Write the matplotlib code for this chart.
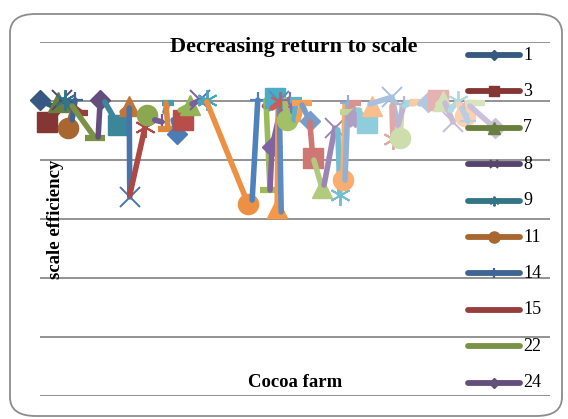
import matplotlib
matplotlib.use("Agg")
import matplotlib.pyplot as plt
from matplotlib.lines import Line2D
from matplotlib.patches import FancyBboxPatch
from matplotlib.colors import to_rgb

# ---- data -------------------------------------------------------------
farm_ids = ["1", "3", "7", "8", "9", "11", "14", "15", "22", "24"]

# each series: farm positions along the category axis and scale efficiency
series_x = [
    [0.0, 2.4], [1.4, 3.5], [3.5, 5.5], [4.3, 6.3], [4.9, 5.9],
    [5.5, 6.3], [6.9, 6.3], [8.2, 6.9], [10.8, 6.3], [11.8, 11.4],
    [15.3, 12.7], [17.5, 16.1], [17.5, 17.6], [17.6, 20.6], [21.0, 22.5],
    [23.9, 22.5], [25.1, 24.5], [24.7, 25.1], [26.9, 26.1], [28.0, 26.7],
    [29.4, 27.5], [31.4, 29.8], [32.7, 31.4], [32.7, 40.8], [41.6, 42.7],
    [45.1, 44.0], [44.3, 45.1], [47.6, 45.5, 45.1], [46.1, 48.0], [46.5, 46.7],
    [46.9, 47.3], [47.1, 45.5], [48.4, 48.0], [49.0, 49.6], [50.2, 49.8],
    [51.4, 50.6], [52.9, 51.4], [53.5, 52.9], [55.3, 53.7], [57.8, 55.7],
    [58.8, 58.4], [59.4, 59.8], [60.4, 59.8], [61.8, 60.8], [60.8, 62.7],
    [61.8, 60.8], [64.1, 62.4], [65.1, 64.3], [64.7, 69.0, 70.4], [69.0, 69.2],
    [70.6, 71.0], [71.4, 70.2], [72.5, 71.4], [74.5, 72.9], [76.1, 74.5],
    [78.0, 76.5], [79.0, 78.0], [81.0, 79.4], [82.0, 80.4], [83.3, 82.0],
    [83.9, 82.7], [84.3, 83.3], [85.3, 83.9], [89.2, 84.3],
]
series_y = [
    [1.003, 0.983], [0.929, 0.963], [0.997, 0.969], [1.003, 0.990], [1.003, 0.983],
    [0.908, 0.963], [1.003, 0.936], [0.959, 0.976], [0.875, 0.983], [1.003, 0.878],
    [0.919, 0.997], [0.983, 0.963], [0.976, 0.675], [0.681, 0.912], [0.953, 0.942],
    [0.929, 0.936], [0.993, 0.963], [0.993, 0.905], [0.888, 0.936], [0.936, 0.942],
    [0.986, 0.969], [1.003, 0.990], [1.003, 0.997], [0.997, 0.651], [0.664, 1.003],
    [0.997, 0.983], [1.003, 0.698], [1.003, 0.844, 0.698], [1.010, 0.976], [0.637, 0.986],
    [1.000, 0.624], [0.997, 0.976], [0.936, 1.003], [1.003, 0.963], [1.003, 0.936],
    [0.993, 0.936], [0.932, 0.986], [0.807, 0.929], [0.705, 0.800], [0.908, 0.715],
    [0.681, 0.902], [0.732, 0.986], [0.993, 0.732], [0.993, 0.976], [0.963, 0.969],
    [0.946, 0.919], [0.925, 0.969], [0.983, 0.953], [0.990, 1.013, 0.900], [0.983, 0.870],
    [0.875, 0.986], [0.990, 0.919], [0.993, 0.983], [0.997, 0.990], [0.997, 0.990],
    [1.003, 0.993], [1.000, 0.990], [0.929, 0.993], [1.000, 0.969], [0.949, 0.990],
    [0.932, 0.976], [0.993, 0.983], [0.993, 0.983], [0.908, 0.983],
]
# which point of each series carries its marker
marker_point = [
    0, 0, 0, 0, 0, 0, 0, 0, 0, 0,
    0, 0, 1, 1, 0, 0, 0, 1, 0, 0,
    0, 0, 0, 1, 1, 0, 1, 1, 0, 0,
    0, 0, 0, 0, 0, 0, 0, 0, 0, 0,
    0, 0, 0, 0, 0, 0, 0, 0, 1, 1,
    0, 0, 0, 0, 0, 0, 0, 0, 0, 0,
    0, 0, 0, 0,
]

# ---- styling ----------------------------------------------------------
base_colors = ["#4F81BD", "#C0504D", "#9BBB59", "#8064A2", "#4BACC6", "#F79646"]
shade_steps = [-0.32, -0.22, -0.1, -0.04, 0.0, 0.08, 0.22, 0.38, 0.5, 0.56, 0.6]


def series_color(i):
    r, g, b = to_rgb(base_colors[i % 6])
    t = shade_steps[min(i // 6, len(shade_steps) - 1)]
    if t < 0:
        return (r * (1 + t), g * (1 + t), b * (1 + t))
    return (r + (1 - r) * t, g + (1 - g) * t, b + (1 - b) * t)


STAR = (6, 2, 0)
# marker, size, edge width (plot) ; size (legend)
marker_cycle = [
    ("D", 10.5, 1, 5.5),
    ("s", 15, 1, 7.5),
    ("^", 15, 1, 8),
    ("x", 14, 1.4, 6),
    (STAR, 15, 1.4, 7),
    ("o", 14.5, 1, 8),
    ("+", 12, 1.6, 7),
    ("_", 9, 4.5, 0),
    ("_", 15, 4.5, 0),
]

plt.rcParams["font.family"] = ["Liberation Serif", "DejaVu Serif"]

W, H = 568, 419
fig = plt.figure(figsize=(W / 100, H / 100), dpi=100)


def fx(px):
    return px / W


def fy(py):
    return 1 - py / H


# rounded chart frame
frame = FancyBboxPatch((fx(10), fy(416)), fx(552), (416 - 14) / H,
                       boxstyle="round,pad=0,rounding_size=0.045",
                       transform=fig.transFigure, facecolor="none",
                       edgecolor="#8c8c8c", linewidth=1.3, zorder=-1)
fig.patches.append(frame)

ax = fig.add_axes([fx(40), fy(396), fx(550) - fx(40), (396 - 42) / H])
ax.set_facecolor("none")
ax.set_xlim(0, 100)
ax.set_ylim(0, 1.2)
ax.set_yticks([0, 0.2, 0.4, 0.6, 0.8, 1.0, 1.2])
ax.set_xticks([])
ax.tick_params(left=False, labelleft=False)
for s in ax.spines.values():
    s.set_visible(False)
ax.grid(axis="y", color="#8a8a8a", linewidth=1.3)
ax.set_axisbelow(True)

for i, (xs, ys) in enumerate(zip(series_x, series_y)):
    m, ms, mew, _ = marker_cycle[i % len(marker_cycle)]
    c = series_color(i)
    ax.plot(xs, ys, color=c, linewidth=4, solid_capstyle="round",
            solid_joinstyle="round", marker=m, markersize=ms,
            markevery=[marker_point[i]],
            markeredgewidth=mew, markerfacecolor=c, markeredgecolor=c,
            zorder=3, clip_on=False)

# title and axis titles
fig.text(fx(294), fy(47), "Decreasing return to scale", ha="center",
         va="center", fontsize=16, fontweight="bold", zorder=4)
fig.text(fx(56), fy(219), "scale efficiency", ha="center", va="center",
         rotation=90, fontsize=13.5, fontweight="bold", zorder=4)
fig.text(fx(295), fy(382), "Cocoa farm", ha="center", va="center",
         fontsize=13.5, fontweight="bold", zorder=4)

# legend
for k, label in enumerate(farm_ids):
    y = fy(55 + k * 36.4)
    m, _, mew, lms = marker_cycle[k % len(marker_cycle)]
    c = series_color(k)
    fig.add_artist(Line2D([fx(468), fx(520)], [y, y], color=c, linewidth=4.2,
                          solid_capstyle="round", transform=fig.transFigure,
                          zorder=5))
    if lms > 0:
        fig.add_artist(Line2D([fx(494)], [y], marker=m, markersize=lms,
                              markeredgewidth=mew, color=c,
                              markerfacecolor=c, markeredgecolor=c,
                              transform=fig.transFigure, zorder=6))
    fig.text(fx(523), y, label, ha="left", va="center", fontsize=13,
             zorder=6)

fig.savefig("out.png", dpi=100)
